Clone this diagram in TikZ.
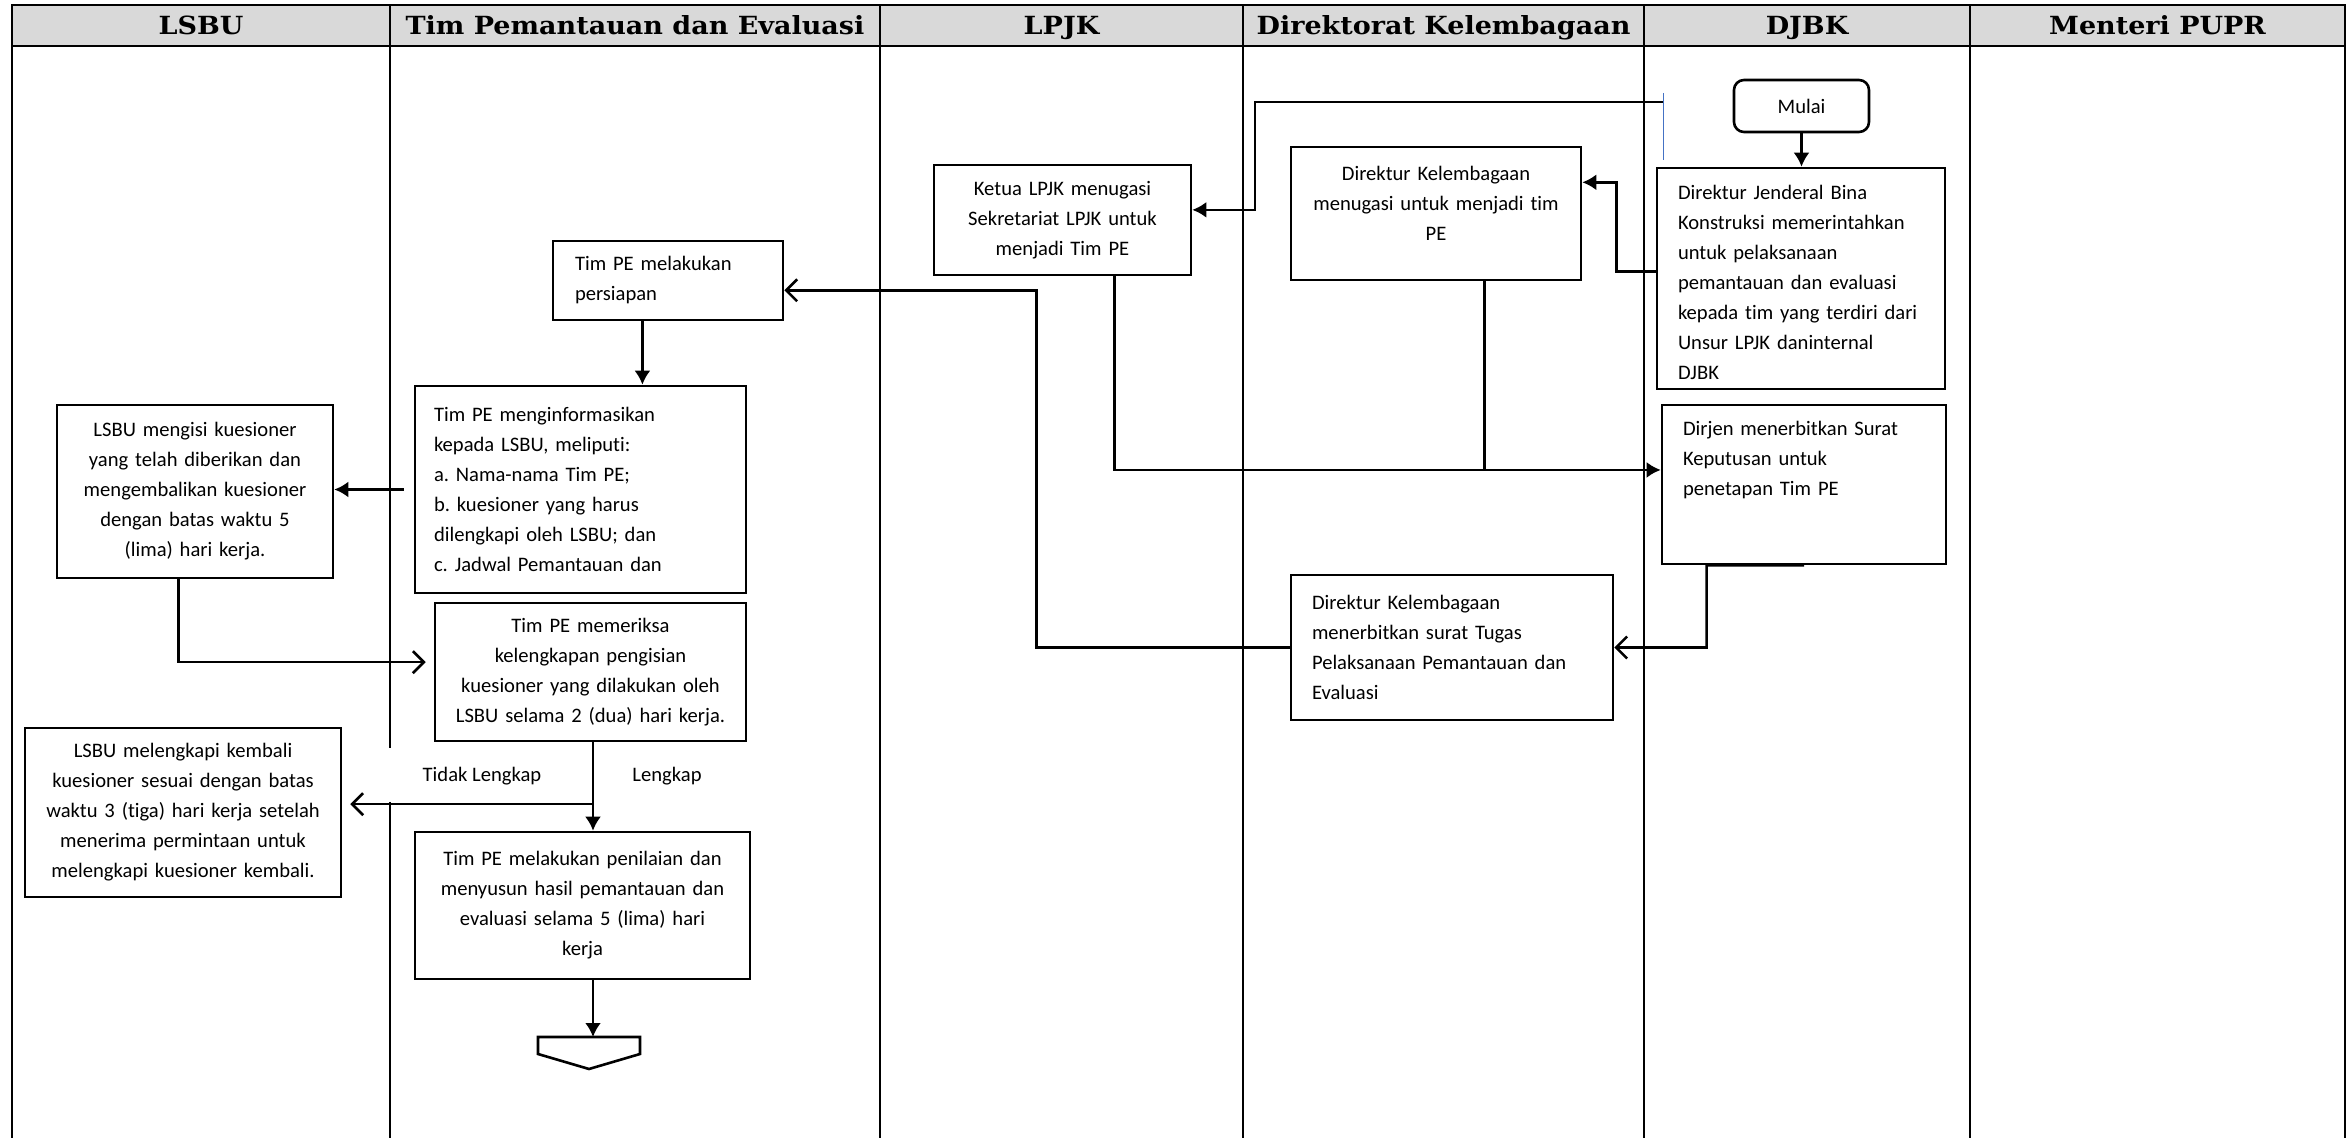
\documentclass[tikz,border=0pt]{standalone}
\usepackage{fontspec}
\setmainfont{Carlito}[Ligatures=CommonOff]
\newfontfamily\headfont{DejaVu Serif}[FakeStretch=1.08]
\usepackage{tikz}
\usetikzlibrary{arrows.meta}
\usetikzlibrary{calc}
\newcommand{\boxfont}{\fontsize{10.3}{15}\selectfont}
\definecolor{headgray}{HTML}{D9D9D9}
\definecolor{markblue}{HTML}{4472C4}
\frenchspacing

\begin{document}
\begin{tikzpicture}[x=0.5pt,y=-0.5pt,
     proc/.style={draw, line width=1.3pt, font=\boxfont, inner ysep=3pt},
     lbox/.style={proc, align=left, inner xsep=10.5pt},
     cbox/.style={proc, align=center, inner xsep=3pt},
     flow/.style={line width=1.3pt, -{Latex[length=7pt,width=8pt]}},
     openflow/.style={line width=1.3pt, -{Straight Barb[length=5.5pt,width=11pt]}},
     lane/.style={line width=0.7pt},
     head/.style={font=\headfont\bfseries\fontsize{12.5}{14}\selectfont, anchor=base}]
     \useasboundingbox (0,0) rectangle (2352,1138);

     \fill[headgray] (12,5) rectangle (2345,46);
     \draw[line width=1.2pt] (12,1138) -- (12,5) -- (2345,5) -- (2345,1138);
     \draw[line width=1.2pt] (12,46) -- (2345,46);
     \draw[lane] (390,5) -- (390,748);
     \draw[lane] (390,802) -- (390,1138);
     \draw[lane] (880,5) -- (880,1138);
     \draw[lane] (1243,5) -- (1243,1138);
     \draw[lane] (1644,5) -- (1644,1138);
     \draw[lane] (1970,5) -- (1970,1138);

     \node[head] (hlsbu) at (201,35) {LSBU};
     \node[head] (htim) at (635,35) {Tim Pemantauan dan Evaluasi};
     \node[head] (hlpjk) at (1061.5,35) {LPJK};
     \node[head] (hdirektorat) at (1443.5,35) {Direktorat Kelembagaan};
     \node[head] (hdjbk) at (1807,35) {DJBK};
     \node[head] (hmenteri) at (2157.5,35) {Menteri PUPR};

     \node[proc, rounded corners=5pt, minimum width=67.5pt, minimum height=26pt] (mulai) at (1801.5,106) {Mulai};
     \node[lbox, text width=123pt, minimum height=110.5pt, text height=11.5pt] (perintah) at (1801,278.5) {Direktur Jenderal Bina\\Konstruksi memerintahkan\\untuk pelaksanaan\\pemantauan dan evaluasi\\kepada tim yang terdiri dari\\Unsur LPJK daninternal\\DJBK};
     \node[lbox, text width=121pt, minimum height=79.5pt, text depth=56pt] (sk) at (1804,484.5) {Dirjen menerbitkan Surat\\Keputusan untuk\\penetapan Tim PE};

     \node[cbox, text width=139pt, minimum height=66.5pt, text depth=40pt] (tugasdk) at (1436,213.5) {Direktur Kelembagaan\\menugasi untuk menjadi tim\\PE};
     \node[lbox, text width=140pt, minimum height=72.5pt] (surattugas) at (1452,647.5) {Direktur Kelembagaan\\menerbitkan surat Tugas\\Pelaksanaan Pemantauan dan\\Evaluasi};

     \node[cbox, text width=122.5pt, minimum height=55pt] (ketua) at (1062.5,220) {Ketua LPJK menugasi\\Sekretariat LPJK untuk\\menjadi Tim PE};

     \node[lbox, inner xsep=11pt, text width=93pt, minimum height=39.5pt] (siap) at (668,280.5) {Tim PE melakukan\\persiapan};
     \node[lbox, inner xsep=9.5pt, text width=146.5pt, minimum height=103.5pt] (info) at (580.5,489.5) {Tim PE menginformasikan\\kepada LSBU, meliputi:\\a. Nama-nama Tim PE;\\b. kuesioner yang harus\\dilengkapi oleh LSBU; dan\\c. Jadwal Pemantauan dan};
     \node[cbox, text width=149.5pt, minimum height=69pt] (periksa) at (590.5,672) {Tim PE memeriksa\\kelengkapan pengisian\\kuesioner yang dilakukan oleh\\LSBU selama 2 (dua) hari kerja.};
     \node[cbox, text width=161.5pt, minimum height=73.5pt] (nilai) at (582.5,905.5) {Tim PE melakukan penilaian dan\\menyusun hasil pemantauan dan\\evaluasi selama 5 (lima) hari\\kerja};

     \node[cbox, text width=132pt, minimum height=86.5pt] (isi) at (195,491.5) {LSBU mengisi kuesioner\\yang telah diberikan dan\\mengembalikan kuesioner\\dengan batas waktu 5\\(lima) hari kerja.};
     \node[cbox, text width=152pt, minimum height=84.5pt] (lengkapi) at (183,812.5) {LSBU melengkapi kembali\\kuesioner sesuai dengan batas\\waktu 3 (tiga) hari kerja setelah\\menerima permintaan untuk\\melengkapi kuesioner kembali.};

     \coordinate (offpage) at (593,1037);
     \draw[line width=1.3pt] (offpage) ++(-55,0) -- ++(102,0) -- ++(0,17) -- ++(-51,15) -- ++(-51,-15) -- cycle;

     \draw[flow] (mulai.south) -- (mulai.south |- perintah.north);
     \coordinate (djbkout) at (1663,102);
     \draw[markblue, line width=0.5pt] (1663,93) -- (1663,160);
     \draw[flow] (djbkout) -- ++(-408,0) |- ($(ketua.north east)!0.41!(ketua.south east)$);
     \draw[flow] ($(perintah.north west)!0.47!(perintah.south west)$) -- ++(-39,0) |- ($(tugasdk.north east)!0.27!(tugasdk.south east)$);

     \coordinate (skin) at ($(sk.north west)!0.41!(sk.south west)$);
     \coordinate (dkout) at ($(tugasdk.south west)!0.665!(tugasdk.south east)$);
     \draw[flow] ($(ketua.south west)!0.7!(ketua.south east)$) |- (skin);
     \draw[line width=1.3pt] (dkout) -- (dkout |- skin);

     \draw[openflow] ($(sk.south west)!0.5!(sk.south east)$) -- ($(sk.south west)!0.16!(sk.south east)$) |- (surattugas.east);
     \draw[openflow] (surattugas.west) -- ++(-253,0) |- ($(siap.north east)!0.62!(siap.south east)$);

     \coordinate (siapout) at ($(siap.south west)!0.39!(siap.south east)$);
     \draw[flow] (siapout) -- (siapout |- info.north);
     \draw[flow] ([xshift=-5pt]info.west) -- (info.west -| isi.east);
     \draw[openflow, shorten >=4pt] ($(isi.south west)!0.44!(isi.south east)$) |- ($(periksa.north west)!0.43!(periksa.south west)$);

     \coordinate (cekout) at (periksa.south -| offpage);
     \coordinate (nilaiin) at (nilai.north -| offpage);
     \coordinate (cabang) at ($(cekout)!0.7!(nilaiin)$);
     \draw[flow] (cekout) -- (nilaiin);
     \draw[openflow, shorten >=4pt] (cabang) -- (cabang -| lengkapi.east);
     \draw[flow] (nilai.south -| offpage) -- (offpage);

     \node[font=\boxfont] (tidak) at (482,776) {Tidak Lengkap};
     \node[font=\boxfont] (ya) at (667,776) {Lengkap};
\end{tikzpicture}
\end{document}
